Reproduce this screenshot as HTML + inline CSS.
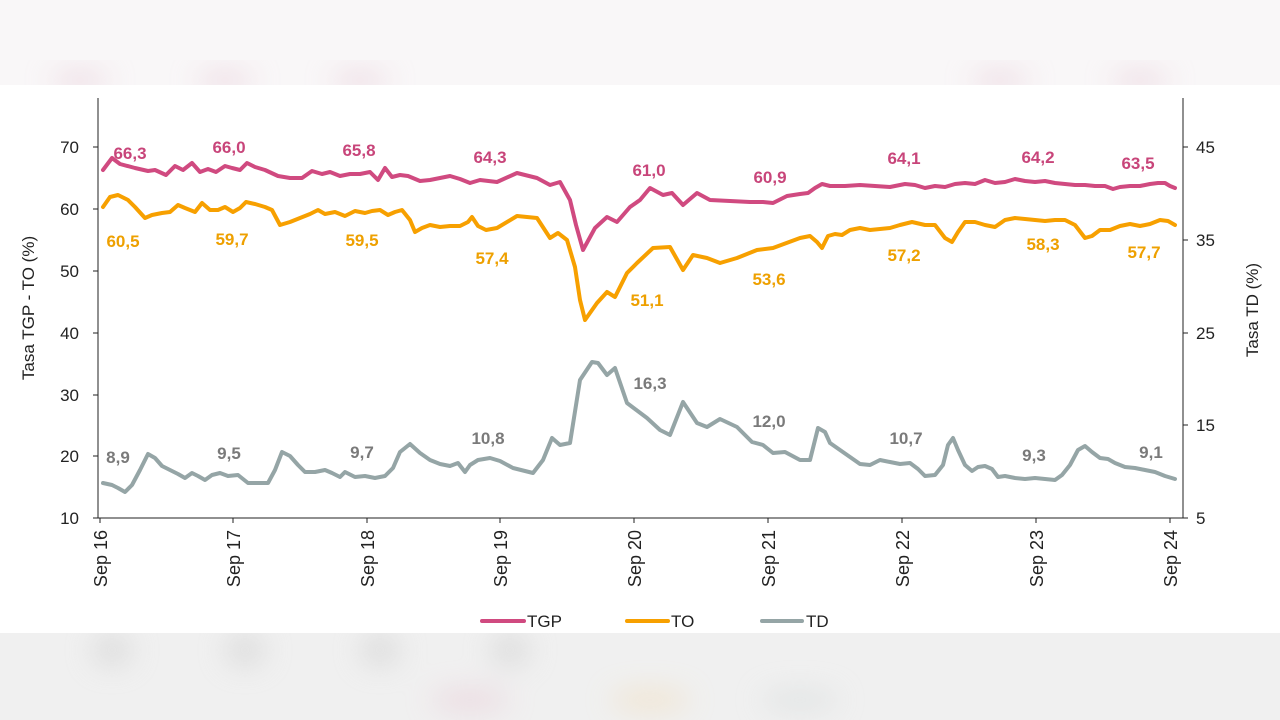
<!DOCTYPE html>
<html><head><meta charset="utf-8"><style>
html,body{margin:0;padding:0;width:1280px;height:720px;overflow:hidden;background:#fff}
svg{display:block}
text{font-family:"Liberation Sans","DejaVu Sans",sans-serif}
</style></head><body>
<svg width="1280" height="720" viewBox="0 0 1280 720" xmlns="http://www.w3.org/2000/svg">
<defs>
<filter id="b" x="-50%" y="-50%" width="200%" height="200%"><feGaussianBlur stdDeviation="14"/></filter>
</defs>
<rect x="0" y="0" width="1280" height="85" fill="#f9f7f8"/>
<g filter="url(#b)" opacity="0.5">
<ellipse cx="80" cy="80" rx="30" ry="10" fill="#e3c3d0"/>
<ellipse cx="225" cy="80" rx="30" ry="10" fill="#e3c3d0"/>
<ellipse cx="360" cy="80" rx="30" ry="10" fill="#e3c3d0"/>
<ellipse cx="1000" cy="80" rx="30" ry="10" fill="#e3c3d0"/>
<ellipse cx="1140" cy="80" rx="30" ry="10" fill="#e3c3d0"/>
</g>
<rect x="0" y="633" width="1280" height="87" fill="#f0f0f0"/>
<g filter="url(#b)" opacity="0.6">
<ellipse cx="112" cy="650" rx="20" ry="16" fill="#cfcfcf"/>
<ellipse cx="245" cy="650" rx="20" ry="16" fill="#cfcfcf"/>
<ellipse cx="380" cy="650" rx="20" ry="16" fill="#cfcfcf"/>
<ellipse cx="510" cy="650" rx="20" ry="16" fill="#cfcfcf"/>
<ellipse cx="470" cy="700" rx="40" ry="10" fill="#e8c8d4"/>
<ellipse cx="650" cy="700" rx="40" ry="10" fill="#f2dcb8"/>
<ellipse cx="800" cy="700" rx="40" ry="10" fill="#d5dada"/>
</g>
<rect x="0" y="85" width="1280" height="548" fill="#fff"/>

<g stroke="#222" stroke-width="1" fill="none">
<line x1="98" y1="98" x2="98" y2="518"/>
<line x1="98" y1="518" x2="1183" y2="518"/>
<line x1="1183" y1="98" x2="1183" y2="518"/>
<line x1="93" y1="147" x2="98" y2="147"/><line x1="93" y1="209" x2="98" y2="209"/><line x1="93" y1="271" x2="98" y2="271"/><line x1="93" y1="333" x2="98" y2="333"/><line x1="93" y1="395" x2="98" y2="395"/><line x1="93" y1="456" x2="98" y2="456"/><line x1="93" y1="518" x2="98" y2="518"/>
<line x1="1183" y1="147" x2="1188" y2="147"/><line x1="1183" y1="240" x2="1188" y2="240"/><line x1="1183" y1="333" x2="1188" y2="333"/><line x1="1183" y1="425" x2="1188" y2="425"/><line x1="1183" y1="518" x2="1188" y2="518"/>
<line x1="100" y1="518" x2="100" y2="523"/><line x1="233" y1="518" x2="233" y2="523"/><line x1="367" y1="518" x2="367" y2="523"/><line x1="500" y1="518" x2="500" y2="523"/><line x1="634" y1="518" x2="634" y2="523"/><line x1="768" y1="518" x2="768" y2="523"/><line x1="902" y1="518" x2="902" y2="523"/><line x1="1036" y1="518" x2="1036" y2="523"/><line x1="1170" y1="518" x2="1170" y2="523"/>
</g>
<g font-size="17" fill="#222" text-anchor="end">
<text x="79" y="153">70</text><text x="79" y="215">60</text><text x="79" y="277">50</text><text x="79" y="339">40</text><text x="79" y="401">30</text><text x="79" y="462">20</text><text x="79" y="524">10</text>
</g>
<g font-size="17" fill="#222" text-anchor="start">
<text x="1196" y="153">45</text><text x="1196" y="246">35</text><text x="1196" y="339">25</text><text x="1196" y="431">15</text><text x="1196" y="524">5</text>
</g>
<g font-size="18" fill="#222" text-anchor="end">
<text transform="translate(107,530) rotate(-90)">Sep 16</text>
<text transform="translate(240,530) rotate(-90)">Sep 17</text>
<text transform="translate(374,530) rotate(-90)">Sep 18</text>
<text transform="translate(507,530) rotate(-90)">Sep 19</text>
<text transform="translate(641,530) rotate(-90)">Sep 20</text>
<text transform="translate(775,530) rotate(-90)">Sep 21</text>
<text transform="translate(909,530) rotate(-90)">Sep 22</text>
<text transform="translate(1043,530) rotate(-90)">Sep 23</text>
<text transform="translate(1177,530) rotate(-90)">Sep 24</text>
</g>
<text font-size="17" fill="#222" text-anchor="middle" transform="translate(34,308) rotate(-90)">Tasa TGP - TO (%)</text>
<text font-size="17" fill="#222" text-anchor="middle" transform="translate(1258,310) rotate(-90)">Tasa TD (%)</text>

<g fill="none" stroke-width="4" stroke-linejoin="round" stroke-linecap="round">
<polyline stroke="#d04a80" points="103,170 112,158 120,164 135,168 148,171 155,170 166,175 175,166 183,170 192,163 200,172 208,169 216,172 225,166 232,168 240,170 247,163 255,167 265,170 278,176 290,178 302,178 312,171 322,174 330,172 340,176 350,174 360,174 370,172 378,180 385,168 392,177 400,175 408,176 420,181 430,180 440,178 450,176 460,179 470,183 480,180 497,182 517,173 537,178 550,185 560,182 570,200 576,225 583,250 595,228 607,217 617,222 630,207 640,200 650,188 663,195 672,193 683,205 697,193 710,200 730,201 750,202 763,202 773,203 787,196 800,194 808,193 815,188 822,184 830,186 845,186 860,185 875,186 890,187 905,184 915,185 925,188 935,186 945,187 955,184 965,183 975,184 985,180 995,183 1005,182 1015,179 1025,181 1035,182 1045,181 1055,183 1065,184 1075,185 1085,185 1095,186 1105,186 1113,189 1120,187 1130,186 1140,186 1150,184 1158,183 1165,183 1170,186 1175,188"/>
<polyline stroke="#f7a000" points="103,207 110,197 118,195 128,200 135,207 145,218 152,215 162,213 170,212 178,205 185,208 195,212 202,203 210,210 218,210 225,207 233,212 240,208 246,202 255,204 265,207 272,210 280,225 290,222 300,218 310,214 318,210 325,214 335,212 345,216 355,211 365,213 372,211 380,210 388,215 395,212 402,210 410,220 415,232 422,228 430,225 440,227 450,226 460,226 468,222 472,217 478,226 486,230 497,228 517,216 537,218 550,238 558,233 567,240 575,267 580,300 585,320 597,303 607,292 615,297 627,273 637,263 653,248 670,247 683,270 693,255 707,258 720,263 737,258 757,250 773,248 800,238 810,236 817,242 822,248 828,236 835,234 842,235 850,230 860,228 870,230 880,229 890,228 900,225 912,222 925,225 935,225 945,238 952,242 958,232 965,222 975,222 985,225 995,227 1005,220 1015,218 1025,219 1035,220 1045,221 1055,220 1065,220 1075,225 1085,238 1092,236 1100,230 1110,230 1120,226 1130,224 1140,226 1150,224 1160,220 1168,221 1175,225"/>
<polyline stroke="#95a5a6" points="103,483 112,485 118,488 125,492 132,485 140,470 148,454 155,458 162,466 170,470 178,474 185,478 192,473 198,476 205,480 212,475 220,473 228,476 238,475 248,483 258,483 268,483 275,470 282,452 290,456 298,465 305,472 315,472 325,470 332,473 340,477 345,472 355,477 365,476 375,478 385,476 393,468 400,452 410,444 420,453 430,460 440,464 450,466 458,463 465,472 470,465 478,460 490,458 500,461 513,468 533,473 543,460 552,438 560,445 570,443 580,380 592,362 598,363 607,375 615,368 627,403 647,418 660,430 670,435 683,402 697,423 707,427 720,419 737,427 752,442 763,445 773,453 785,452 800,460 810,460 815,440 818,428 825,432 830,443 840,450 850,457 860,464 870,465 880,460 890,462 900,464 910,463 918,469 925,476 935,475 943,465 948,445 953,438 958,450 965,465 972,471 978,467 985,466 992,469 998,477 1005,476 1015,478 1025,479 1035,478 1045,479 1055,480 1062,475 1070,465 1078,450 1085,446 1092,452 1100,458 1108,459 1115,463 1125,467 1135,468 1145,470 1155,472 1165,476 1175,479"/>
</g>

<g font-size="17" font-weight="bold" fill="#c8457a" text-anchor="middle">
<text x="130" y="159">66,3</text><text x="229" y="153">66,0</text><text x="359" y="156">65,8</text><text x="490" y="163">64,3</text><text x="649" y="176">61,0</text><text x="770" y="183">60,9</text><text x="904" y="164">64,1</text><text x="1038" y="163">64,2</text><text x="1138" y="169">63,5</text>
</g>
<g font-size="17" font-weight="bold" fill="#eea000" text-anchor="middle">
<text x="123" y="247">60,5</text><text x="232" y="245">59,7</text><text x="362" y="246">59,5</text><text x="492" y="264">57,4</text><text x="647" y="306">51,1</text><text x="769" y="285">53,6</text><text x="904" y="261">57,2</text><text x="1043" y="250">58,3</text><text x="1144" y="258">57,7</text>
</g>
<g font-size="17" font-weight="bold" fill="#7a7a7a" text-anchor="middle">
<text x="118" y="463">8,9</text><text x="229" y="459">9,5</text><text x="362" y="458">9,7</text><text x="488" y="444">10,8</text><text x="650" y="389">16,3</text><text x="769" y="427">12,0</text><text x="906" y="444">10,7</text><text x="1034" y="461">9,3</text><text x="1151" y="458">9,1</text>
</g>

<g stroke-width="4" stroke-linecap="round">
<line x1="482" y1="621" x2="524" y2="621" stroke="#d04a80"/>
<line x1="627" y1="621" x2="668" y2="621" stroke="#f7a000"/>
<line x1="762" y1="621" x2="802" y2="621" stroke="#95a5a6"/>
</g>
<g font-size="17" fill="#222">
<text x="527" y="627">TGP</text><text x="671" y="627">TO</text><text x="806" y="627">TD</text>
</g>
</svg>
</body></html>
